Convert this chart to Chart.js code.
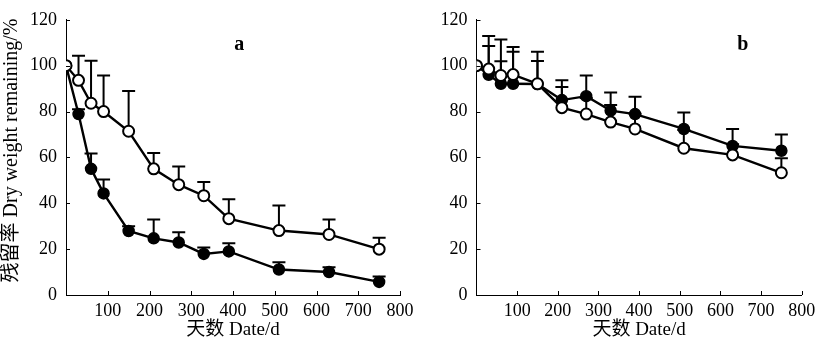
<!DOCTYPE html>
<html>
<head>
<meta charset="utf-8">
<script src="https://cdn.jsdelivr.net/npm/chart.js@4/dist/chart.umd.min.js"></script>
<style>
  html,body{margin:0;padding:0;background:#fff;}
  #wrap{position:relative;width:822px;height:347px;overflow:hidden;}
  .pane{position:absolute;top:0;height:347px;}
</style>
</head>
<body>
<div id="wrap">
  <div class="pane" style="left:0;width:420px;"><canvas id="ca"></canvas></div>
  <div class="pane" style="left:410px;width:412px;"><canvas id="cb"></canvas></div>
</div>
<script>
// ---- data ----
const days = [0, 30, 60, 90, 150, 210, 270, 330, 390, 510, 630, 750];

const aOpen      = [100, 93.6, 83.6, 80.0, 71.4, 55.0, 48.1, 43.3, 33.3, 28.1, 26.4, 20.0];
const aOpenErr   = [0, 10.7, 18.5, 15.7, 17.5, 6.9, 7.9, 6.0, 8.4, 10.9, 6.5, 5.0];
const aFilled    = [100, 78.9, 55.0, 44.3, 27.9, 24.7, 22.9, 17.9, 19.0, 11.1, 10.0, 5.7];
const aFilledErr = [0, 2.1, 6.7, 6.1, 2.1, 8.2, 4.5, 2.8, 3.6, 3.2, 2.1, 2.4];

const bOpen      = [100, 98.5, 95.7, 96.1, 92.1, 81.7, 78.9, 75.4, 72.4, 64.0, 61.1, 53.3];
const bOpenErr   = [0, 14.4, 15.7, 12.0, 14.0, 9.0, 7.0, 7.5, 6.6, 8.0, 4.6, 6.3];
const bFilled    = [100, 96.0, 92.1, 92.1, 92.0, 85.0, 86.7, 80.4, 78.9, 72.4, 65.0, 62.9];
const bFilledErr = [0, 12.6, 9.8, 14.0, 10.0, 8.6, 9.0, 7.9, 7.5, 7.2, 7.4, 7.1];

const xTickValues = [100, 200, 300, 400, 500, 600, 700, 800];
const yTickValues = [0, 20, 40, 60, 80, 100, 120];

const yTitleText = '残留率 Dry weight remaining/%';
const xTitleText = '天数 Date/d';

// ---- helpers ----
const FONT = '"Liberation Serif", "Times New Roman", "Noto Sans CJK SC", serif';

function pts(vals) { return days.map((d, i) => ({ x: d, y: vals[i] })); }

const errorBars = {
  id: 'errorBars',
  beforeDatasetsDraw(chart) {
    const ctx = chart.ctx, xs = chart.scales.x, ys = chart.scales.y;
    ctx.save();
    ctx.strokeStyle = '#000';
    ctx.lineWidth = 2;
    chart.data.datasets.forEach(ds => {
      (ds.errors || []).forEach((e, i) => {
        if (!e) return;
        const p = ds.data[i];
        const px = xs.getPixelForValue(p.x);
        const py = ys.getPixelForValue(p.y);
        const pt = ys.getPixelForValue(p.y + e);
        ctx.beginPath();
        ctx.moveTo(px, py); ctx.lineTo(px, pt);
        ctx.moveTo(px - 6.5, pt); ctx.lineTo(px + 6.5, pt);
        ctx.stroke();
      });
    });
    ctx.restore();
  }
};

const decorations = {
  id: 'decorations',
  afterDraw(chart, args, opts) {
    const ctx = chart.ctx, xs = chart.scales.x, ys = chart.scales.y, ca = chart.chartArea;
    ctx.save();
    ctx.strokeStyle = '#000';
    ctx.lineWidth = 1;
    ctx.beginPath();
    ys.ticks.forEach(t => {
      const y = Math.round(ys.getPixelForValue(t.value)) + 0.5;
      ctx.moveTo(ca.left, y); ctx.lineTo(ca.left + 4, y);
    });
    xs.ticks.forEach(t => {
      const x = Math.round(xs.getPixelForValue(t.value)) + 0.5;
      ctx.moveTo(x, ca.bottom); ctx.lineTo(x, ca.bottom - 4);
    });
    ctx.stroke();
    ctx.fillStyle = '#000';
    if (opts && opts.label) {
      ctx.font = 'bold 20px ' + FONT;
      ctx.textAlign = 'center';
      ctx.textBaseline = 'middle';
      ctx.fillText(opts.label, xs.getPixelForValue(opts.lx), ys.getPixelForValue(opts.ly));
    }
    if (opts && opts.yTitle) {
      ctx.font = '20px ' + FONT;
      ctx.textAlign = 'center';
      ctx.textBaseline = 'middle';
      ctx.translate(12, ys.getPixelForValue(opts.yTitleAt));
      ctx.rotate(-Math.PI / 2);
      ctx.fillText(opts.yTitle, 0, 0);
    }
    ctx.restore();
  }
};

function makeChart(id, openVals, openErr, filledVals, filledErr, opt) {
  return new Chart(document.getElementById(id), {
    type: 'line',
    data: {
      datasets: [
        {
          data: pts(openVals), errors: openErr,
          borderColor: '#000', borderWidth: 2.4,
          pointRadius: 5.5, pointBorderWidth: 2,
          pointBackgroundColor: '#fff', pointBorderColor: '#000',
          tension: 0, fill: false
        },
        {
          data: pts(filledVals), errors: filledErr,
          borderColor: '#000', borderWidth: 2.4,
          pointRadius: 5.5, pointBorderWidth: 1.5,
          pointBackgroundColor: '#000', pointBorderColor: '#000',
          tension: 0, fill: false
        }
      ]
    },
    options: {
      responsive: true,
      maintainAspectRatio: false,
      animation: false,
      events: [],
      layout: { padding: { left: 0, right: opt.padRight, top: 15, bottom: 0 } },
      plugins: {
        legend: { display: false },
        tooltip: { enabled: false },
        decorations: { label: opt.label, lx: opt.lx, ly: 109, yTitle: opt.yTitle, yTitleAt: 63 }
      },
      scales: {
        x: {
          type: 'linear', min: 0, max: 800,
          afterBuildTicks: s => { s.ticks = xTickValues.map(v => ({ value: v })); },
          afterFit: s => { s.height = 52; },
          grid: { display: false, drawTicks: false },
          border: { display: true, color: '#000', width: 1 },
          ticks: { color: '#000', font: { family: FONT, size: 18 }, padding: 5, maxRotation: 0 },
          title: {
            display: true, text: xTitleText, color: '#000',
            font: { family: FONT, size: 19 }, padding: { top: 0, bottom: 6 }
          }
        },
        y: {
          type: 'linear', min: 0, max: 120,
          afterBuildTicks: s => { s.ticks = yTickValues.map(v => ({ value: v })); },
          afterFit: s => { s.width = opt.yWidth; },
          grid: { display: false, drawTicks: false },
          border: { display: true, color: '#000', width: 1 },
          ticks: { color: '#000', font: { family: FONT, size: 18 }, padding: 9 },
          title: { display: false }
        }
      }
    },
    plugins: [errorBars, decorations]
  });
}

makeChart('ca', aOpen, aOpenErr, aFilled, aFilledErr,
  { padRight: 20, yWidth: 66, yTitle: yTitleText, label: 'a', lx: 415 });
makeChart('cb', bOpen, bOpenErr, bFilled, bFilledErr,
  { padRight: 20.3, yWidth: 66.5, yTitle: '', label: 'b', lx: 655 });
</script>
</body>
</html>
